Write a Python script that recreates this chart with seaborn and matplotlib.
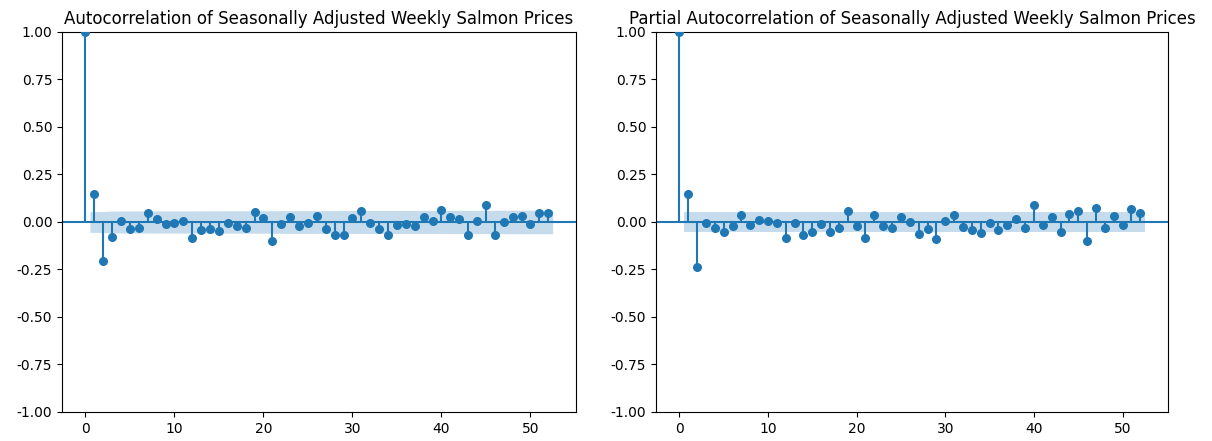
import matplotlib
matplotlib.use("Agg")
import matplotlib.pyplot as plt
import seaborn as sns
import numpy as np

# valores (lags 0..52)
lags = list(range(53))
acf_vals = [1.0, 0.147, -0.207, -0.081, 0.005, -0.039, -0.033, 0.046, 0.014, -0.011,
            -0.005, 0.004, -0.084, -0.042, -0.039, -0.047, -0.007, -0.021, -0.030, 0.053,
            0.021, -0.098, -0.011, 0.028, -0.023, -0.004, 0.033, -0.039, -0.067, -0.070,
            0.021, 0.060, -0.004, -0.039, -0.070, -0.014, -0.011, -0.021, 0.025, 0.004,
            0.063, 0.025, 0.018, -0.067, 0.004, 0.088, -0.067, 0.000, 0.025, 0.032,
            -0.011, 0.046, 0.046]
pacf_vals = [1.0, 0.147, -0.235, -0.007, -0.033, -0.054, -0.021, 0.039, -0.014, 0.009,
             0.004, -0.004, -0.084, -0.007, -0.068, -0.053, -0.011, -0.053, -0.032, 0.060,
             -0.021, -0.084, 0.039, -0.021, -0.032, 0.025, 0.000, -0.063, -0.035, -0.088,
             0.007, 0.035, -0.025, -0.042, -0.060, -0.007, -0.042, -0.014, 0.014, -0.032,
             0.091, -0.014, 0.028, -0.053, 0.042, 0.056, -0.098, 0.074, -0.032, 0.032,
             -0.014, 0.070, 0.046]
n_obs = 1300  # numero aproximado de semanas (ancho de la banda)

titles = ["Autocorrelation of Seasonally Adjusted Weekly Salmon Prices",
          "Partial Autocorrelation of Seasonally Adjusted Weekly Salmon Prices"]

# bandas de confianza al 95% (Bartlett para ACF, 1/sqrt(n) para PACF)
acf_arr = np.array(acf_vals)
var_acf = np.ones(len(lags)) / n_obs
var_acf[0] = 0
var_acf[2:] *= 1 + 2 * np.cumsum(acf_arr[1:-1] ** 2)
band_acf = 1.96 * np.sqrt(var_acf)
band_pacf = np.full(len(lags), 1.96 / np.sqrt(n_obs))

fig = plt.figure(figsize=(12.12, 4.41), dpi=100)
ax1 = fig.add_axes([0.0512, 0.0658, 0.4241, 0.8617])
ax2 = fig.add_axes([0.5413, 0.0658, 0.4224, 0.8617])

color = "#1f77b4"
for ax, vals, band, title in [(ax1, acf_vals, band_acf, titles[0]),
                              (ax2, pacf_vals, band_pacf, titles[1])]:
    ax.vlines(lags, 0, vals, color=color, linewidth=1.5)
    ax.axhline(0, color=color, linewidth=1.5)
    sns.scatterplot(x=lags, y=vals, ax=ax, s=30, color=color, edgecolor=color,
                    linewidth=1, zorder=3)
    # banda desde 0.5 hasta 52.5
    bx = np.array(lags[1:], dtype=float)
    bx[0] -= 0.5
    bx[-1] += 0.5
    ax.fill_between(bx, -band[1:], band[1:], color=color, alpha=0.25, linewidth=0)
    ax.set_ylim(-1, 1)
    ax.set_yticks(np.arange(-1, 1.01, 0.25))
    ax.yaxis.set_major_formatter(matplotlib.ticker.FormatStrFormatter("%.2f"))
    ax.set_title(title, fontsize=12)
    ax.set_xlabel("")
    ax.set_ylabel("")

fig.savefig("out.png", dpi=100)
